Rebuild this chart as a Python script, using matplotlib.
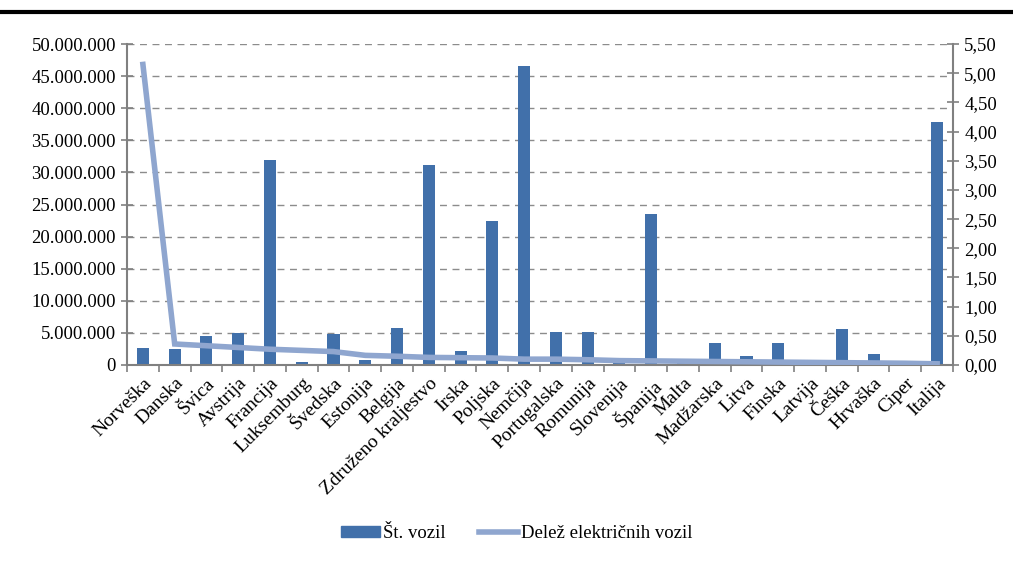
import matplotlib.pyplot as plt
from matplotlib.ticker import FuncFormatter
from matplotlib.patches import Patch
from matplotlib.lines import Line2D

drzave = ["Norveška", "Danska", "Švica", "Avstrija", "Francija", "Luksemburg",
          "Švedska", "Estonija", "Belgija", "Združeno kraljestvo", "Irska",
          "Poljska", "Nemčija", "Portugalska", "Romunija", "Slovenija",
          "Španija", "Malta", "Madžarska", "Litva", "Finska", "Latvija",
          "Češka", "Hrvaška", "Ciper", "Italija"]
st_vozil = [2650000, 2500000, 4500000, 5000000, 32000000, 400000,
            4900000, 750000, 5800000, 31200000, 2200000,
            22500000, 46500000, 5100000, 5100000, 1100000,
            23500000, 300000, 3500000, 1350000, 3450000, 700000,
            5550000, 1700000, 500000, 37800000]
delez_ev = [5.15, 0.36, 0.33, 0.30, 0.27, 0.25,
            0.23, 0.165, 0.15, 0.13, 0.125,
            0.12, 0.10, 0.10, 0.09, 0.075,
            0.07, 0.065, 0.06, 0.055, 0.05, 0.045,
            0.04, 0.035, 0.03, 0.02]

bar_barva = "#4170aa"
crta_barva = "#8fa6cf"
siva = "#808080"

plt.rcParams["font.family"] = ["Liberation Serif", "DejaVu Serif"]

fig = plt.figure(figsize=(10.13, 5.63), dpi=100)
ax = fig.add_axes([0.1254, 0.3517, 0.8154, 0.5701])
x = list(range(len(drzave)))

ax.bar(x, st_vozil, width=0.38, color=bar_barva, zorder=2)
ax.set_xlim(-0.5, len(drzave) - 0.5)
ax.set_ylim(0, 50000000)
ax.set_yticks(range(0, 50000001, 5000000))
ax.yaxis.set_major_formatter(FuncFormatter(lambda v, p: f"{int(v):,}".replace(",", ".")))
ax.grid(axis="y", linestyle=(0, (5, 4)), color="#8c8c8c", linewidth=1.0, zorder=0)
ax.set_axisbelow(True)

ax.set_xticks(x)
ax.set_xticklabels(drzave, rotation=45, ha="right", rotation_mode="anchor", fontsize=14)
ax.set_xticks([i + 0.5 for i in range(-1, len(drzave))], minor=True)
ax.tick_params(axis="x", which="major", length=0, pad=7)
ax.tick_params(axis="x", which="minor", length=5, color=siva, width=1.2)
ax.tick_params(axis="y", direction="inout", length=8, color=siva, width=1.2,
               labelsize=13.5, pad=4)

for s in ["top", "right"]:
    ax.spines[s].set_visible(False)
for s in ["left", "bottom"]:
    ax.spines[s].set_color(siva)
    ax.spines[s].set_linewidth(1.5)

ax2 = ax.twinx()
ax2.plot(x, delez_ev, color=crta_barva, linewidth=4, zorder=3, solid_joinstyle="miter")
ax2.set_ylim(0, 5.5)
ax2.set_yticks([i * 0.5 for i in range(12)])
ax2.yaxis.set_major_formatter(FuncFormatter(lambda v, p: f"{v:.2f}".replace(".", ",")))
ax2.tick_params(axis="y", direction="inout", length=8, color=siva, width=1.2,
                labelsize=13.5, pad=4)
for s in ["top", "left", "bottom"]:
    ax2.spines[s].set_visible(False)
ax2.spines["right"].set_color(siva)
ax2.spines["right"].set_linewidth(1.5)

# debela crta na vrhu
fig.add_artist(Line2D([0, 1], [0.979, 0.979], color="black", linewidth=3,
                      transform=fig.transFigure))

rocaji = [Patch(color=bar_barva), Line2D([], [], color=crta_barva, linewidth=4)]
fig.legend(rocaji, ["Št. vozil", "Delež električnih vozil"], loc="center",
           bbox_to_anchor=(0.51, 0.052), ncol=2, frameon=False, fontsize=13.5,
           handlelength=2.1, handleheight=0.5, handletextpad=0.15, columnspacing=1.8)

fig.savefig("out.png", dpi=100)
